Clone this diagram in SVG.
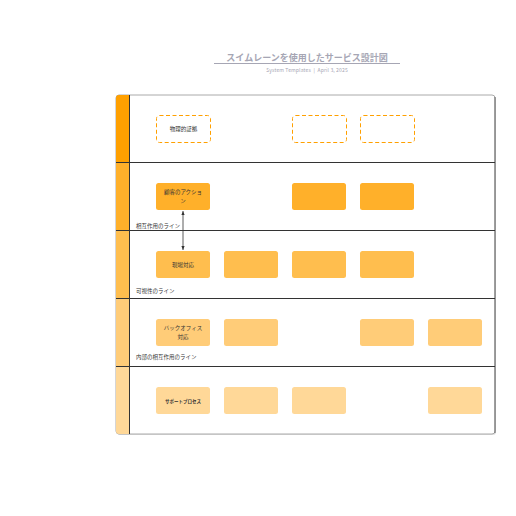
<svg xmlns="http://www.w3.org/2000/svg" width="516" height="516" viewBox="0 0 516 516">
<defs>
<style>
.t{font-family:"Noto Sans CJK JP","Noto Sans",sans-serif;fill:#333;}
.lbl{font-size:5.5px;}
.n{font-size:5.5px;text-anchor:middle;}
.lane{stroke:#333;stroke-width:1;}
.dash{fill:#fff;stroke:#FFA000;stroke-width:1;stroke-dasharray:4,2.5;}
</style>
<marker id="ah" viewBox="0 0 10 10" refX="10" refY="5" markerWidth="5" markerHeight="5" orient="auto-start-reverse"><path d="M0,1 L10,5 L0,9 Z" fill="#333"/></marker>
</defs>
<rect width="516" height="516" fill="#fff"/>
<g id="title">
<text x="307" y="61" class="t" style="font-size:9px;font-weight:bold;fill:#a6a6b4" text-anchor="middle">スイムレーンを使用したサービス設計図</text>
<line x1="214" y1="63.5" x2="400" y2="63.5" stroke="#a6a6b4" stroke-width="1"/>
<text x="307" y="71.5" class="t" style="font-size:5px;fill:#a6a6b4;letter-spacing:0.15px" text-anchor="middle" xml:space="preserve">System Templates  |  April 3, 2025</text>
</g>
<g id="frame">
<rect x="117" y="96" width="379" height="339" rx="3" fill="#e0e0e0"/>
<rect x="116" y="95" width="379" height="339" rx="3" fill="#fff" stroke="#aaa" stroke-width="1"/>
<path d="M119,95 H129 V162 H116 V98 A3,3 0 0 1 119,95 Z" fill="#FFA000"/>
<rect x="116" y="162" width="13" height="68" fill="#FFB02A"/>
<rect x="116" y="230" width="13" height="68" fill="#FFBE4E"/>
<rect x="116" y="298" width="13" height="68" fill="#FFCC78"/>
<path d="M116,366 H129 V434 H119 A3,3 0 0 1 116,431 Z" fill="#FFD898"/>
<line x1="495" y1="97" x2="495" y2="433" stroke="#666" stroke-width="1"/>
<line x1="129.5" y1="95" x2="129.5" y2="434" class="lane"/>
<line x1="116" y1="162.5" x2="495" y2="162.5" class="lane"/>
<line x1="116" y1="230.5" x2="495" y2="230.5" class="lane"/>
<line x1="116" y1="298.5" x2="495" y2="298.5" class="lane"/>
<line x1="116" y1="366.5" x2="495" y2="366.5" class="lane"/>
<text x="136" y="227.5" class="t lbl">相互作用のライン</text>
<text x="136" y="293" class="t lbl">可視性のライン</text>
<text x="136" y="359" class="t lbl">内部の相互作用のライン</text>
</g>
<g id="n1"><rect x="156.5" y="115.5" width="54" height="27" rx="3" class="dash"/><text x="183.5" y="131" class="t n">物理的証拠</text></g>
<g id="n2"><rect x="292.5" y="115.5" width="54" height="27" rx="3" class="dash"/></g>
<g id="n3"><rect x="360.5" y="115.5" width="54" height="27" rx="3" class="dash"/></g>
<g id="n4"><rect x="156" y="183" width="54" height="27" rx="2.5" fill="#FFB02A"/><text x="183" y="194" class="t n">顧客のアクショ</text><text x="183" y="203" class="t n">ン</text></g>
<g id="n5"><rect x="292" y="183" width="54" height="27" rx="2.5" fill="#FFB02A"/></g>
<g id="n6"><rect x="360" y="183" width="54" height="27" rx="2.5" fill="#FFB02A"/></g>
<g id="n7"><rect x="156" y="251" width="54" height="27" rx="2.5" fill="#FFBE4E"/><text x="183" y="266.5" class="t n">現場対応</text></g>
<g id="n8"><rect x="224" y="251" width="54" height="27" rx="2.5" fill="#FFBE4E"/></g>
<g id="n9"><rect x="292" y="251" width="54" height="27" rx="2.5" fill="#FFBE4E"/></g>
<g id="n10"><rect x="360" y="251" width="54" height="27" rx="2.5" fill="#FFBE4E"/></g>
<g id="n11"><rect x="156" y="319" width="54" height="27" rx="2.5" fill="#FFCC78"/><text x="183" y="330" class="t n">バックオフィス</text><text x="183" y="339" class="t n">対応</text></g>
<g id="n12"><rect x="224" y="319" width="54" height="27" rx="2.5" fill="#FFCC78"/></g>
<g id="n13"><rect x="360" y="319" width="54" height="27" rx="2.5" fill="#FFCC78"/></g>
<g id="n14"><rect x="428" y="319" width="54" height="27" rx="2.5" fill="#FFCC78"/></g>
<g id="n15"><rect x="156" y="387" width="54" height="27" rx="2.5" fill="#FFD898"/><text x="183" y="402.5" class="t n" style="font-size:4.5px;font-weight:bold">サポートプロセス</text></g>
<g id="n16"><rect x="224" y="387" width="54" height="27" rx="2.5" fill="#FFD898"/></g>
<g id="n17"><rect x="292" y="387" width="54" height="27" rx="2.5" fill="#FFD898"/></g>
<g id="n18"><rect x="428" y="387" width="54" height="27" rx="2.5" fill="#FFD898"/></g>
<g id="connectors">
<line x1="183" y1="211" x2="183" y2="250" stroke="#333" stroke-width="0.8" marker-start="url(#ah)" marker-end="url(#ah)"/>
</g>
</svg>
